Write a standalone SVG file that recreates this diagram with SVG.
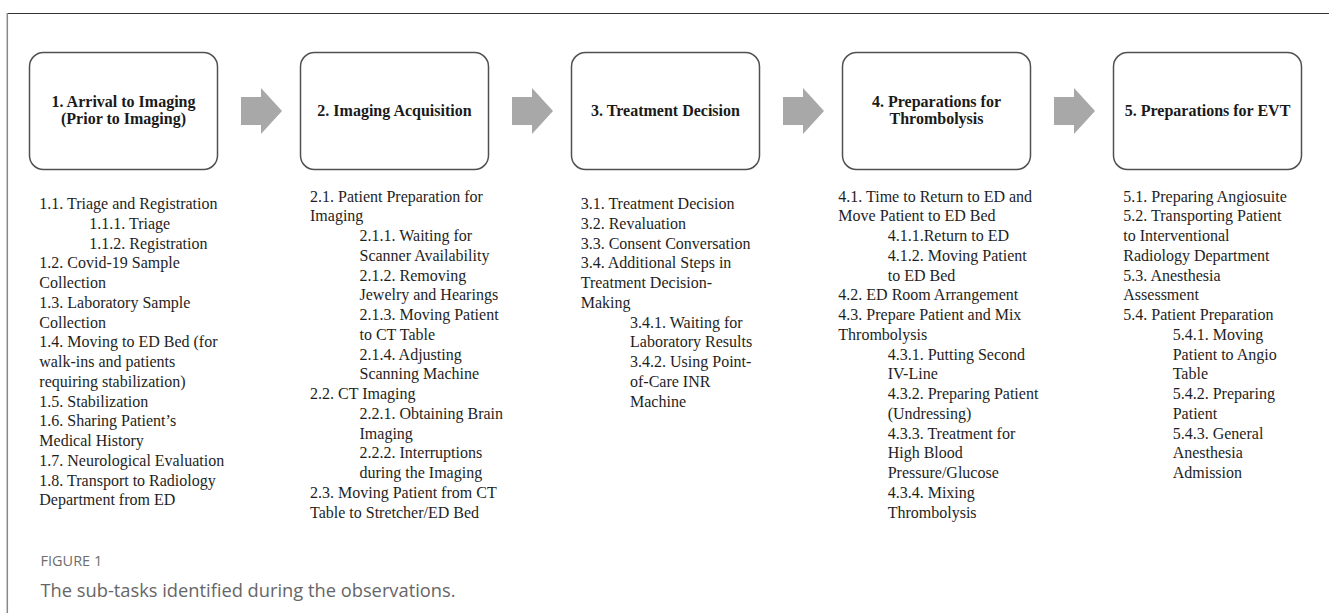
<svg xmlns="http://www.w3.org/2000/svg" xmlns:xlink="http://www.w3.org/1999/xlink" width="1329" height="613" viewBox="0 0 1329 613">
<style>
.box{fill:#fff;stroke:#505050;stroke-width:1.5}
.title{font-family:"Liberation Serif","Times New Roman",serif;font-weight:bold;font-size:16px;fill:#1a1a1a;text-anchor:middle}
.t{font-family:"Liberation Serif","Times New Roman",serif;font-size:16px;fill:#1e1e1e}
.arrow{fill:#a8a8a8}
.fig{font-family:"Open Sans","Noto Sans",sans-serif;font-size:14.5px;fill:#6e6e6e}
.cap{font-family:"Open Sans","Noto Sans",sans-serif;font-size:18.3px;fill:#666}
</style>
<defs>
<polygon id="arr" class="arrow" points="241,97 261,97 261,88 282,111 261,134 261,125 241,125"/>
</defs>
<rect width="1329" height="613" fill="#fff"/>
<line x1="7" y1="13.5" x2="1329" y2="13.5" stroke="#333" stroke-width="1.2"/>
<line x1="7.3" y1="13" x2="7.3" y2="613" stroke="#888" stroke-width="1.5"/>

<g id="connectors">
<use xlink:href="#arr" x="0"/>
<use xlink:href="#arr" x="271"/>
<use xlink:href="#arr" x="542"/>
<use xlink:href="#arr" x="813"/>
</g>

<g id="stage1">
<rect class="box" x="29.5" y="52.5" width="188" height="117" rx="14"/>
<text class="title" x="123.5" y="107">1. Arrival to Imaging</text>
<text class="title" x="123.5" y="124">(Prior to Imaging)</text>
<text class="t" x="39.3" y="209">1.1. Triage and Registration</text>
<text class="t" x="89.3" y="228.75">1.1.1. Triage</text>
<text class="t" x="89.3" y="248.5">1.1.2. Registration</text>
<text class="t" x="39.3" y="268.25">1.2. Covid-19 Sample</text>
<text class="t" x="39.3" y="288">Collection</text>
<text class="t" x="39.3" y="307.75">1.3. Laboratory Sample</text>
<text class="t" x="39.3" y="327.5">Collection</text>
<text class="t" x="39.3" y="347.25">1.4. Moving to ED Bed (for</text>
<text class="t" x="39.3" y="367">walk-ins and patients</text>
<text class="t" x="39.3" y="386.75">requiring stabilization)</text>
<text class="t" x="39.3" y="406.5">1.5. Stabilization</text>
<text class="t" x="39.3" y="426.25">1.6. Sharing Patient’s</text>
<text class="t" x="39.3" y="446">Medical History</text>
<text class="t" x="39.3" y="465.75">1.7. Neurological Evaluation</text>
<text class="t" x="39.3" y="485.5">1.8. Transport to Radiology</text>
<text class="t" x="39.3" y="505.25">Department from ED</text>
</g>

<g id="stage2">
<rect class="box" x="300.5" y="52.5" width="188" height="117" rx="14"/>
<text class="title" x="394.5" y="116">2. Imaging Acquisition</text>
<text class="t" x="310" y="201.5">2.1. Patient Preparation for</text>
<text class="t" x="310" y="221.25">Imaging</text>
<text class="t" x="359.5" y="241">2.1.1. Waiting for</text>
<text class="t" x="359.5" y="260.75">Scanner Availability</text>
<text class="t" x="359.5" y="280.5">2.1.2. Removing</text>
<text class="t" x="359.5" y="300.25">Jewelry and Hearings</text>
<text class="t" x="359.5" y="320">2.1.3. Moving Patient</text>
<text class="t" x="359.5" y="339.75">to CT Table</text>
<text class="t" x="359.5" y="359.5">2.1.4. Adjusting</text>
<text class="t" x="359.5" y="379.25">Scanning Machine</text>
<text class="t" x="310" y="399">2.2. CT Imaging</text>
<text class="t" x="359.5" y="418.75">2.2.1. Obtaining Brain</text>
<text class="t" x="359.5" y="438.5">Imaging</text>
<text class="t" x="359.5" y="458.25">2.2.2. Interruptions</text>
<text class="t" x="359.5" y="478">during the Imaging</text>
<text class="t" x="310" y="497.75">2.3. Moving Patient from CT</text>
<text class="t" x="310" y="517.5">Table to Stretcher/ED Bed</text>
</g>

<g id="stage3">
<rect class="box" x="571.5" y="52.5" width="188" height="117" rx="14"/>
<text class="title" x="665.5" y="116">3. Treatment Decision</text>
<text class="t" x="580.7" y="209">3.1. Treatment Decision</text>
<text class="t" x="580.7" y="228.75">3.2. Revaluation</text>
<text class="t" x="580.7" y="248.5">3.3. Consent Conversation</text>
<text class="t" x="580.7" y="268.25">3.4. Additional Steps in</text>
<text class="t" x="580.7" y="288">Treatment Decision-</text>
<text class="t" x="580.7" y="307.75">Making</text>
<text class="t" x="630" y="327.5">3.4.1. Waiting for</text>
<text class="t" x="630" y="347.25">Laboratory Results</text>
<text class="t" x="630" y="367">3.4.2. Using Point-</text>
<text class="t" x="630" y="386.75">of-Care INR</text>
<text class="t" x="630" y="406.5">Machine</text>
</g>

<g id="stage4">
<rect class="box" x="842.5" y="52.5" width="188" height="117" rx="14"/>
<text class="title" x="936.5" y="107">4. Preparations for</text>
<text class="title" x="936.5" y="124">Thrombolysis</text>
<text class="t" x="838.3" y="201.5">4.1. Time to Return to ED and</text>
<text class="t" x="838.3" y="221.25">Move Patient to ED Bed</text>
<text class="t" x="887.7" y="241">4.1.1.Return to ED</text>
<text class="t" x="887.7" y="260.75">4.1.2. Moving Patient</text>
<text class="t" x="887.7" y="280.5">to ED Bed</text>
<text class="t" x="838.3" y="300.25">4.2. ED Room Arrangement</text>
<text class="t" x="838.3" y="320">4.3. Prepare Patient and Mix</text>
<text class="t" x="838.3" y="339.75">Thrombolysis</text>
<text class="t" x="887.7" y="359.5">4.3.1. Putting Second</text>
<text class="t" x="887.7" y="379.25">IV-Line</text>
<text class="t" x="887.7" y="399">4.3.2. Preparing Patient</text>
<text class="t" x="887.7" y="418.75">(Undressing)</text>
<text class="t" x="887.7" y="438.5">4.3.3. Treatment for</text>
<text class="t" x="887.7" y="458.25">High Blood</text>
<text class="t" x="887.7" y="478">Pressure/Glucose</text>
<text class="t" x="887.7" y="497.75">4.3.4. Mixing</text>
<text class="t" x="887.7" y="517.5">Thrombolysis</text>
</g>

<g id="stage5">
<rect class="box" x="1113.5" y="52.5" width="188" height="117" rx="14"/>
<text class="title" x="1207.5" y="116">5. Preparations for EVT</text>
<text class="t" x="1123.3" y="201.5">5.1. Preparing Angiosuite</text>
<text class="t" x="1123.3" y="221.25">5.2. Transporting Patient</text>
<text class="t" x="1123.3" y="241">to Interventional</text>
<text class="t" x="1123.3" y="260.75">Radiology Department</text>
<text class="t" x="1123.3" y="280.5">5.3. Anesthesia</text>
<text class="t" x="1123.3" y="300.25">Assessment</text>
<text class="t" x="1123.3" y="320">5.4. Patient Preparation</text>
<text class="t" x="1172.7" y="339.75">5.4.1. Moving</text>
<text class="t" x="1172.7" y="359.5">Patient to Angio</text>
<text class="t" x="1172.7" y="379.25">Table</text>
<text class="t" x="1172.7" y="399">5.4.2. Preparing</text>
<text class="t" x="1172.7" y="418.75">Patient</text>
<text class="t" x="1172.7" y="438.5">5.4.3. General</text>
<text class="t" x="1172.7" y="458.25">Anesthesia</text>
<text class="t" x="1172.7" y="478">Admission</text>
</g>

<g id="caption">
<text class="fig" x="40.5" y="566">FIGURE 1</text>
<text class="cap" x="40.5" y="597">The sub-tasks identified during the observations.</text>
</g>
</svg>
